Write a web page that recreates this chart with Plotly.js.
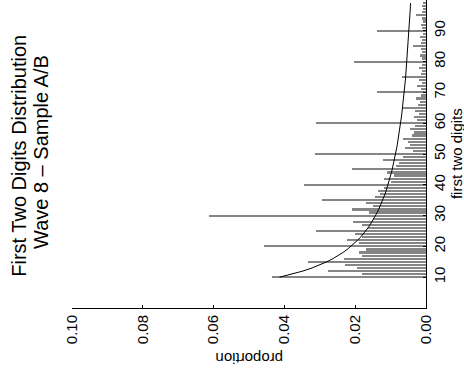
<!DOCTYPE html>
<html>
<head>
<meta charset="utf-8">
<script src="https://cdn.plot.ly/plotly-3.0.1.min.js"></script>
<style>html,body{margin:0;padding:0;background:#fff}#chart{width:464px;height:377px}</style>
</head>
<body>
<div id="chart"></div>
<script>
// first two digits (categories)
var digits = [10,11,12,13,14,15,16,17,18,19,20,21,22,23,24,25,26,27,28,29,
  30,31,32,33,34,35,36,37,38,39,40,41,42,43,44,45,46,47,48,49,
  50,51,52,53,54,55,56,57,58,59,60,61,62,63,64,65,66,67,68,69,
  70,71,72,73,74,75,76,77,78,79,80,81,82,83,84,85,86,87,88,89,
  90,91,92,93,94,95,96,97,98,99];

var observed = [0.0435,0.0180,0.0277,0.0195,0.0230,0.0332,0.0233,0.0180,0.0190,0.0170,
  0.0458,0.0190,0.0222,0.0180,0.0200,0.0310,0.0165,0.0180,0.0207,0.0150,
  0.0613,0.0160,0.0210,0.0150,0.0170,0.0293,0.0145,0.0130,0.0136,0.0120,
  0.0346,0.0100,0.0120,0.0090,0.0110,0.0210,0.0085,0.0075,0.0122,0.0065,
  0.0314,0.0036,0.0060,0.0045,0.0050,0.0065,0.0040,0.0035,0.0045,0.0030,
  0.0310,0.0025,0.0035,0.0020,0.0030,0.0065,0.0022,0.0018,0.0028,0.0015,
  0.0139,0.0015,0.0025,0.0012,0.0020,0.0069,0.0015,0.0012,0.0020,0.0010,
  0.0202,0.0012,0.0018,0.0010,0.0015,0.0036,0.0015,0.0010,0.0018,0.0008,
  0.0139,0.0010,0.0015,0.0008,0.0012,0.0028,0.0012,0.0008,0.0012,0.0008];

// expected (Benford) proportions, as drawn by the curve
var expected = [0.04139,0.03779,0.03476,0.03218,0.02996,0.02803,0.02633,0.02482,0.02348,0.02228,
  0.02119,0.02020,0.01931,0.01848,0.01773,0.01703,0.01639,0.01579,0.01524,0.01472,
  0.01424,0.01379,0.01336,0.01297,0.01259,0.01223,0.01190,0.01158,0.01128,0.01100,
  0.01072,0.01047,0.01022,0.00998,0.00976,0.00955,0.00934,0.00914,0.00896,0.00877,
  0.00860,0.00843,0.00827,0.00812,0.00797,0.00783,0.00769,0.00755,0.00742,0.00730,
  0.00718,0.00706,0.00695,0.00684,0.00673,0.00663,0.00653,0.00643,0.00634,0.00625,
  0.00616,0.00607,0.00599,0.00591,0.00583,0.00575,0.00568,0.00560,0.00553,0.00546,
  0.00540,0.00533,0.00526,0.00520,0.00514,0.00508,0.00502,0.00496,0.00491,0.00485,
  0.00480,0.00475,0.00470,0.00464,0.00460,0.00455,0.00450,0.00445,0.00441,0.00436];

var propTicks = [0, 0.02, 0.04, 0.06, 0.08, 0.10];
var propTickText = ["0.00","0.02","0.04","0.06","0.08","0.10"];
var digitTicks = [10,20,30,40,50,60,70,80,90];

var FONT = "Liberation Sans, Arial, Helvetica, sans-serif";

var traces = [
  {type:'bar', orientation:'h', x: observed, y: digits, width: 0.7,
   marker:{color:'#858585', line:{width:0}}, hoverinfo:'x+y'},
  {type:'scatter', mode:'lines', x: expected, y: digits,
   line:{color:'#000', width:1}, hoverinfo:'x+y'}
];

var layout = {
  width: 464, height: 377,
  margin: {l:72, r:38, t:0, b:69, pad:0},
  paper_bgcolor:'#fff', plot_bgcolor:'#fff',
  showlegend:false,
  font:{family:FONT, color:'#000', size:15},
  bargap: 0,
  xaxis: {
    range:[0.10, 0], tickvals: propTicks, ticktext: propTickText,
    tickangle:-90, ticks:'inside', ticklen:3, tickcolor:'#000', tickwidth:1,
    showline:true, linecolor:'#000', linewidth:1, mirror:false,
    showgrid:false, zeroline:false, fixedrange:true,
    tickfont:{family:FONT, size:15, color:'#000'}
  },
  yaxis: {
    range:[0, 100], side:'right', tickvals: digitTicks,
    tickangle:-90, ticks:'inside', ticklen:3, tickcolor:'#000', tickwidth:1,
    showline:true, linecolor:'#000', linewidth:1, mirror:false,
    showgrid:false, zeroline:false, fixedrange:true,
    tickfont:{family:FONT, size:15, color:'#000'}
  },
  annotations: [
    {text:'First Two Digits Distribution', xref:'paper', yref:'paper',
     x:-0.150, y:0.494, xanchor:'center', yanchor:'middle', textangle:-90, showarrow:false,
     font:{family:FONT, size:20, color:'#000'}},
    {text:'Wave 8 \u2013 Sample A/B', xref:'paper', yref:'paper',
     x:-0.088, y:0.506, xanchor:'center', yanchor:'middle', textangle:-90, showarrow:false,
     font:{family:FONT, size:20, color:'#000'}},
    {text:'proportion', xref:'paper', yref:'paper',
     x:0.5, y:-0.166, xanchor:'center', yanchor:'middle', textangle:180, showarrow:false,
     font:{family:FONT, size:15, color:'#000'}},
    {text:'first two digits', xref:'paper', yref:'paper',
     x:1.085, y:0.5, xanchor:'center', yanchor:'middle', textangle:-90, showarrow:false,
     font:{family:FONT, size:15, color:'#000'}}
  ]
};

Plotly.newPlot('chart', traces, layout, {staticPlot:true, displayModeBar:false});
</script>
</body>
</html>
